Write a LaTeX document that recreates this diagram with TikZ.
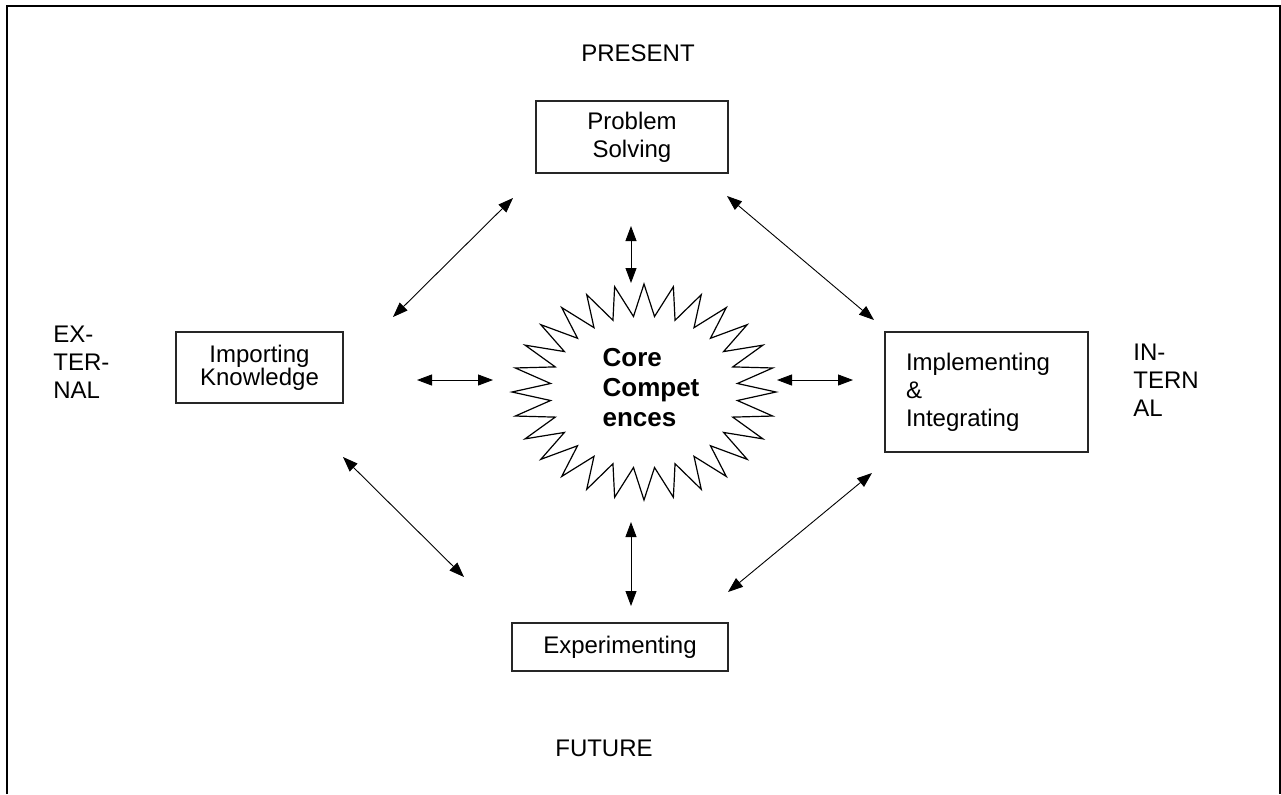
\documentclass[tikz,border=0pt]{standalone}
\usepackage{fontspec}
\setmainfont{Liberation Sans}
\usetikzlibrary{arrows.meta,positioning}

\tikzset{
  stage/.style={draw=black!85, line width=0.6pt, align=center, inner sep=2pt,
    font=\fontsize{12}{14}\selectfont},
  axislabel/.style={font=\fontsize{12}{14}\selectfont, align=left, inner sep=0pt},
  link/.style={{Triangle[length=7.5pt,width=5.5pt]}-{Triangle[length=7.5pt,width=5.5pt]}, line width=0.45pt},
  spiky/.style={line width=0.6pt, line join=miter}
}

\begin{document}
\begin{tikzpicture}[x=0.5pt,y=-0.5pt]
    \useasboundingbox (0,0) rectangle (1281,794);
    % open frame
    \draw[line width=1pt] (7,794) -- (7,6) -- (1280,6) -- (1280,794);

    % the four activities
    \node[stage, minimum width=96pt, minimum height=36pt] (ps) at (632,137) {Problem\\Solving};
    \node[stage, minimum width=83.5pt, minimum height=35.5pt,
          font=\fontsize{12}{11.5}\selectfont] (ik) at (259.5,367.5) {Importing\\Knowledge};
    \node[stage, minimum width=101.5pt, minimum height=60pt, text width=80.5pt,
          inner xsep=10.5pt, align=left] (ii) at (986.5,392) {Implementing\\\&\\Integrating};
    \node[stage, minimum width=108pt, minimum height=24pt] (ex) at (620,647) {Experimenting};

    % axis labels
    \node[axislabel] (present) at (638,53) {PRESENT};
    \node[axislabel] (future) at (604,748) {FUTURE};
    \node[axislabel, anchor=west] (external) at (53,362) {EX-\\TER-\\NAL};
    \node[axislabel, anchor=west] (internal) at (1133,380) {IN-\\TERN\\AL};

    % core competences
    \draw[spiky] plot[samples at={0,...,55}, variable=\k]
        ({644+(132-38*mod(\k,2))*cos(\k*6.428571)}, {392+(108-32*mod(\k,2))*sin(\k*6.428571)}) -- cycle;
    \node[align=left, inner sep=0pt, font=\fontsize{13}{15}\selectfont\bfseries] (core) at (651,388)
        {Core\\Compet\\ences};

    % arrow ends
    \coordinate (tl1) at (393,317);  \coordinate (tl2) at (513,198);
    \coordinate (tr1) at (727,196);  \coordinate (tr2) at (874,320);
    \coordinate (bl1) at (343,457);  \coordinate (bl2) at (464,577);
    \coordinate (br1) at (728,592);  \coordinate (br2) at (872,473);
    \coordinate (up1) at (631,226);  \coordinate (up2) at (631,283);
    \coordinate (dn1) at (631,522);  \coordinate (dn2) at (631,606);
    \coordinate (lf1) at (417,380);  \coordinate (lf2) at (493,380);
    \coordinate (rt1) at (777,380);  \coordinate (rt2) at (853,380);

    \draw[link] (tl1) -- (tl2);
    \draw[link] (tr1) -- (tr2);
    \draw[link] (bl1) -- (bl2);
    \draw[link] (br1) -- (br2);
    \draw[link] (up1) -- (up2);
    \draw[link] (dn1) -- (dn2);
    \draw[link] (lf1) -- (lf2);
    \draw[link] (rt1) -- (rt2);
\end{tikzpicture}
\end{document}
